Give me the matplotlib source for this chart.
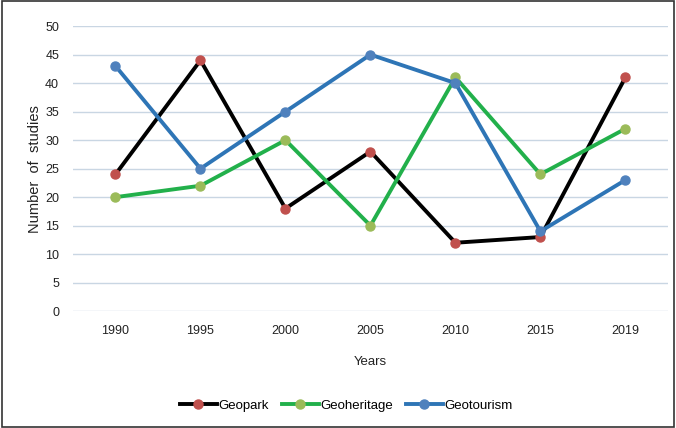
import matplotlib
matplotlib.use("Agg")
import matplotlib.pyplot as plt
from matplotlib.patches import Rectangle

years = ["1990", "1995", "2000", "2005", "2010", "2015", "2019"]
geopark = [24, 44, 18, 28, 12, 13, 41]
geoheritage = [20, 22, 30, 15, 41, 24, 32]
geotourism = [43, 25, 35, 45, 40, 14, 23]
yticks = list(range(0, 55, 5))

plt.rcParams['font.family'] = ['Liberation Sans', 'DejaVu Sans']

fig = plt.figure(figsize=(6.76, 4.28), dpi=100)
ax = fig.add_axes([0.108, 0.273, 0.88, 0.666])

x = list(range(len(years)))
series = [
    (geopark, "Geopark", "#000000", "#c0504d"),
    (geoheritage, "Geoheritage", "#22b04b", "#9bbb59"),
    (geotourism, "Geotourism", "#2e75b6", "#4f81bd"),
]
for vals, name, lc, mc in series:
    ax.plot(x, vals, color=lc, lw=2.8, marker='o', ms=6.5,
            markerfacecolor=mc, markeredgecolor=mc, label=name, zorder=3)

ax.set_xlim(-0.5, len(years) - 0.5)
ax.set_ylim(0, 50)
ax.set_yticks(yticks)
ax.set_xticks(x)
ax.set_xticklabels(years)
ax.grid(axis='y', color='#c9d6e3', lw=1)
ax.set_axisbelow(True)
for s in ax.spines.values():
    s.set_visible(False)
ax.tick_params(length=0, labelsize=9, colors='#222222')
ax.tick_params(axis='x', pad=10)
ax.tick_params(axis='y', pad=10)
ax.set_xlabel("Years", fontsize=9.5, labelpad=14, color='#222222')
ax.set_ylabel("Number  of  studies", fontsize=10.5, labelpad=2, color='#222222')

leg = fig.legend(loc='center', bbox_to_anchor=(0.512, 0.052), ncol=3, frameon=False,
                 fontsize=9.5, handlelength=2.8, columnspacing=1.0, handletextpad=0.1)

fig.patches.append(Rectangle((0.003, 0.003), 0.994, 0.994, transform=fig.transFigure,
                             fill=False, edgecolor='#333333', lw=1.2))

fig.savefig("out.png", dpi=100)
